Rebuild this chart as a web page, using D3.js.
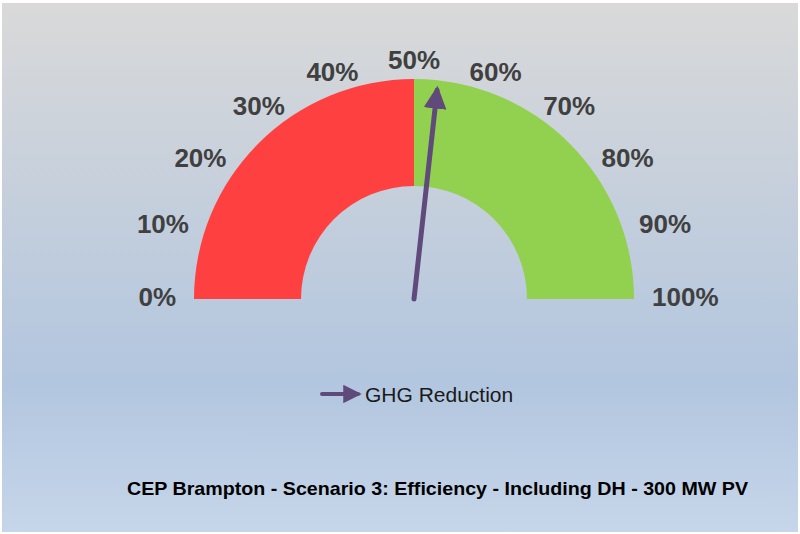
<!DOCTYPE html>
<html>
<head>
<meta charset="utf-8">
<script src="https://cdn.jsdelivr.net/npm/d3@7"></script>
<style>
  body { margin: 0; background: #fff; }
  text { font-family: "Liberation Sans", Arial, sans-serif; }
</style>
</head>
<body>
<script>
var w = 800;
var h = 534;

// gauge bands (percent ranges) and the needle value
var bandStart = [0, 50];
var bandEnd = [50, 100];
var bandColor = ['#ff4040', '#92d050'];
var tickValues = [0, 10, 20, 30, 40, 50, 60, 70, 80, 90, 100];
var needleValue = 53.5;
var legendLabel = 'GHG Reduction';
var title = 'CEP Brampton - Scenario 3: Efficiency - Including DH - 300 MW PV';

var cx = 414, cy = 299;
var rOuter = 220, rInner = 113;

var svg = d3.select('body')
  .append('svg')
  .attr('width', w)
  .attr('height', h);

var defs = svg.append('defs');
var grad = defs.append('linearGradient')
  .attr('id', 'bg')
  .attr('x1', 0).attr('y1', 0)
  .attr('x2', 0).attr('y2', 1);
grad.append('stop').attr('offset', '0%').attr('stop-color', '#d9d9d9');
grad.append('stop').attr('offset', '72%').attr('stop-color', '#b2c6df');
grad.append('stop').attr('offset', '100%').attr('stop-color', '#c6d6ea');

svg.append('rect')
  .attr('x', 2).attr('y', 3)
  .attr('width', w - 4).attr('height', h - 5)
  .attr('fill', 'url(#bg)');

// percent -> angle (radians, d3.arc convention: 0 = up, clockwise)
var angle = d3.scaleLinear().domain([0, 100]).range([-Math.PI / 2, Math.PI / 2]);

var arc = d3.arc().innerRadius(rInner).outerRadius(rOuter);

var g = svg.append('g').attr('transform', 'translate(' + cx + ',' + cy + ')');

g.selectAll('path.band')
  .data(bandStart)
  .enter().append('path')
  .attr('class', 'band')
  .attr('d', function(d, i) {
    return arc({ startAngle: angle(d), endAngle: angle(bandEnd[i]) });
  })
  .attr('fill', function(d, i) { return bandColor[i]; });

// tick labels around the gauge (on an ellipse, wider for wider text)
var labels = g.selectAll('text.tick')
  .data(tickValues)
  .enter().append('text')
  .attr('class', 'tick')
  .attr('text-anchor', 'middle')
  .attr('dy', '0.36em')
  .attr('font-size', 26)
  .attr('font-weight', 'bold')
  .attr('fill', '#404040')
  .text(function(d) { return d + '%'; });

labels.each(function(d) {
  var a = angle(d);
  var halfW = this.getComputedTextLength() / 2;
  var rx = 238 + halfW;
  var ry = 237;
  d3.select(this)
    .attr('x', rx * Math.sin(a))
    .attr('y', -ry * Math.cos(a) - 2);
});

// needle
var purple = '#604a7b';
defs.append('marker')
  .attr('id', 'head')
  .attr('viewBox', '0 0 10 10')
  .attr('refX', 8).attr('refY', 5)
  .attr('markerWidth', 4.6).attr('markerHeight', 4.6)
  .attr('markerUnits', 'strokeWidth')
  .attr('orient', 'auto')
  .append('path')
  .attr('d', 'M0,0 L10,5 L0,10 Z')
  .attr('fill', purple);

var needleLen = 210;
var na = angle(needleValue);
g.append('line')
  .attr('x1', 0).attr('y1', 0)
  .attr('x2', needleLen * Math.sin(na))
  .attr('y2', -needleLen * Math.cos(na))
  .attr('stroke', purple)
  .attr('stroke-width', 5)
  .attr('stroke-linecap', 'round')
  .attr('marker-end', 'url(#head)');

// legend
var legend = svg.append('g').attr('transform', 'translate(322,394)');
legend.append('line')
  .attr('x1', 0).attr('y1', 0)
  .attr('x2', 36).attr('y2', 0)
  .attr('stroke', purple)
  .attr('stroke-width', 4)
  .attr('stroke-linecap', 'round')
  .attr('marker-end', 'url(#head)');
legend.append('text')
  .attr('x', 43).attr('y', 0)
  .attr('dy', '0.36em')
  .attr('font-size', 21)
  .attr('fill', '#1a1a1a')
  .text(legendLabel);

// title
svg.append('text')
  .attr('x', 127).attr('y', 495)
  .attr('font-size', 18.5)
  .attr('font-weight', 'bold')
  .attr('fill', '#000')
  .attr('textLength', 621)
  .attr('lengthAdjust', 'spacingAndGlyphs')
  .text(title);
</script>
</body>
</html>
